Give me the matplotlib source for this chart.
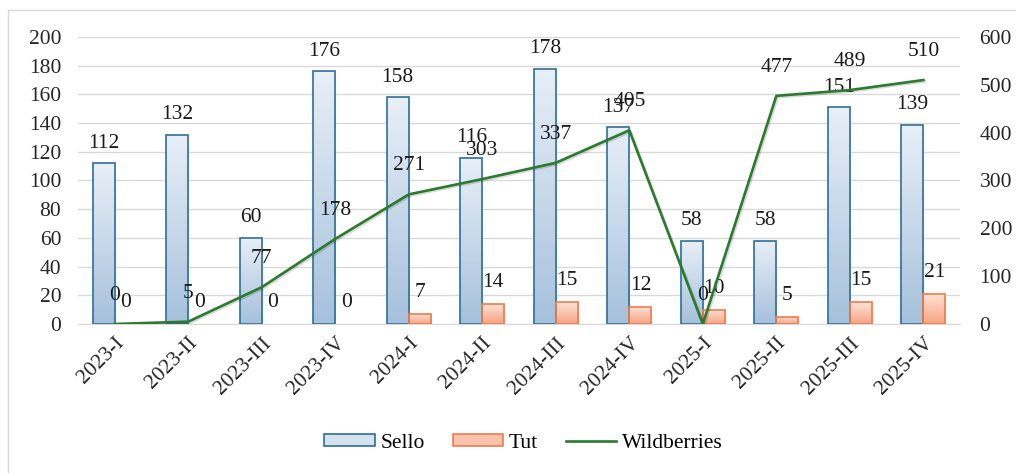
import numpy as np
import matplotlib.pyplot as plt
from matplotlib.colors import to_rgb
from matplotlib.lines import Line2D
from matplotlib.patches import Patch
import matplotlib.patheffects as pe

# --- data ---
quarters = ['2023-I', '2023-II', '2023-III', '2023-IV', '2024-I', '2024-II',
            '2024-III', '2024-IV', '2025-I', '2025-II', '2025-III', '2025-IV']
sello = [112, 132, 60, 176, 158, 116, 178, 137, 58, 58, 151, 139]
tut = [0, 0, 0, 0, 7, 14, 15, 12, 10, 5, 15, 21]
wildberries = [0, 5, 77, 178, 271, 303, 337, 405, 0, 477, 489, 510]

plt.rcParams['font.family'] = ['Liberation Serif', 'DejaVu Serif']
FS = 15.5

fig = plt.figure(figsize=(10.16, 4.73), dpi=100)
ax = fig.add_axes([0.0768, 0.315, 0.8682, 0.6068])
ax2 = ax.twinx()

x = np.arange(len(quarters))
w = 0.30


def gradient_bars(bars, top_color, bottom_color):
    # fill every bar with a vertical gradient, clipped to its own rectangle
    grad = np.linspace(0, 1, 64).reshape(-1, 1, 1)
    img = np.array(to_rgb(top_color)) * (1 - grad) + np.array(to_rgb(bottom_color)) * grad
    for b in bars:
        if b.get_height() == 0:
            b.set_linewidth(0)
            continue
        x0, y0 = b.get_x(), b.get_y()
        im = ax.imshow(img, extent=[x0, x0 + b.get_width(), y0, y0 + b.get_height()],
                       aspect='auto', origin='upper', zorder=2)
        im.set_clip_path(b)


bars_s = ax.bar(x - w / 2, sello, w, facecolor='none', edgecolor='#2e6f98',
                linewidth=1.2, zorder=3)
bars_t = ax.bar(x + w / 2, tut, w, facecolor='none', edgecolor='#ee7c4c',
                linewidth=1.2, zorder=3)
ax.set_xlim(-0.5, len(quarters) - 0.5)
ax.set_ylim(0, 200)
ax.set_autoscale_on(False)
gradient_bars(bars_s, '#e8eff7', '#a6c1dc')
gradient_bars(bars_t, '#fde4d8', '#f7a283')

ax.set_yticks(range(0, 201, 20))
ax.yaxis.grid(True, color='#d9d9d9', linewidth=1)
ax.set_axisbelow(True)
for s in ['top', 'left', 'right']:
    ax.spines[s].set_visible(False)
ax.spines['bottom'].set_color('#d9d9d9')
ax.tick_params(axis='both', length=0, labelsize=FS, colors='#262626')
ax.tick_params(axis='y', pad=12)
ax.set_xticks(x)
ax.set_xticklabels(quarters, rotation=45, ha='right', va='top',
                   rotation_mode='anchor')
ax.tick_params(axis='x', pad=7)

ax2.plot(x, wildberries, color='#2b7a2e', linewidth=1.9, zorder=4,
         path_effects=[pe.SimpleLineShadow(offset=(1, -1), alpha=0.15),
                       pe.Normal()])
ax2.set_ylim(0, 600)
ax2.set_yticks(range(0, 601, 100))
for s in ['top', 'left', 'right', 'bottom']:
    ax2.spines[s].set_visible(False)
ax2.tick_params(axis='y', length=0, labelsize=FS, colors='#262626', pad=14)

# value labels
for b, v in zip(bars_s, sello):
    ax.annotate(str(v), (b.get_x() + b.get_width() / 2, v), xytext=(0, 14.5),
                textcoords='offset points', ha='center', va='center',
                fontsize=FS, color='#1a1a1a', zorder=6)
for b, v in zip(bars_t, tut):
    ax.annotate(str(v), (b.get_x() + b.get_width() / 2, v), xytext=(0, 15.5),
                textcoords='offset points', ha='center', va='center',
                fontsize=FS, color='#1a1a1a', zorder=6)
for xi, v in zip(x, wildberries):
    ax2.annotate(str(v), (xi, v), xytext=(0, 20.5), textcoords='offset points',
                 ha='center', va='center', fontsize=FS, color='#1a1a1a', zorder=6)

handles = [Patch(facecolor='#d3e0ee', edgecolor='#2e6f98', linewidth=1.2),
           Patch(facecolor='#fbc3ad', edgecolor='#ee7c4c', linewidth=1.2),
           Line2D([0], [0], color='#2b7a2e', linewidth=1.9)]
fig.legend(handles, ['Sello', 'Tut', 'Wildberries'], loc='center',
           bbox_to_anchor=(0.515, 0.063), ncol=3, frameon=False, fontsize=FS,
           handlelength=2.35, handleheight=0.45, handletextpad=0.25,
           columnspacing=1.3)

# frame of the cropped chart area
fig.add_artist(Line2D([8 / 1016, 8 / 1016], [0, 1 - 10 / 473],
                      transform=fig.transFigure, color='#d9d9d9', linewidth=1))
fig.add_artist(Line2D([8 / 1016, 1], [1 - 10 / 473, 1 - 10 / 473],
                      transform=fig.transFigure, color='#d9d9d9', linewidth=1))

fig.savefig('out.png', dpi=100)
